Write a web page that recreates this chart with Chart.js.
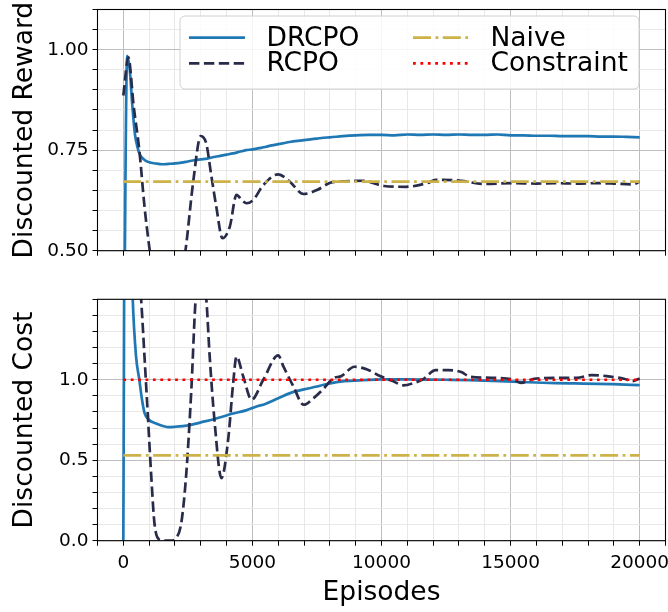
<!DOCTYPE html>
<html><head><meta charset="utf-8">
<script src="https://cdn.jsdelivr.net/npm/chart.js@4/dist/chart.umd.min.js"></script>
<style>
html,body{margin:0;padding:0;background:#fff;}
#wrap{position:relative;width:668px;height:612px;overflow:hidden;}
canvas{position:absolute;left:0;}
</style></head><body>
<div id="wrap">
<canvas id="topChart" width="668" height="270" style="top:0px"></canvas>
<canvas id="botChart" width="668" height="342" style="top:270px"></canvas>
</div>
<script>
// ---------- DATA ----------
const xTickLabels = ["0", "5000", "10000", "15000", "20000"];
const rewardTickLabels = ["0.50", "0.75", "1.00"];
const costTickLabels = ["0.0", "0.5", "1.0"];
const seriesNames = ["DRCPO", "RCPO", "Naive", "Constraint"];

const drcpoRewardEp  = [0,150,250,350,450,550,650,800,1000,1250,1500,1750,2000,2250,2500,2750,3000,3250,3500,3750,4000,4250,4500,4750,5000,5250,5500,5750,6000,6250,6500,6750,7000,7250,7500,7750,8000,8500,9000,9500,10000,10500,11000,11500,12000,12500,13000,13500,14000,14500,15000,15500,16000,16500,17000,17500,18000,18500,19000,19500,20000];
const drcpoRewardVal = [0.0,0.985,0.95,0.86,0.79,0.757,0.738,0.727,0.72,0.717,0.715,0.716,0.717,0.719,0.722,0.725,0.727,0.729,0.733,0.736,0.739,0.742,0.746,0.75,0.752,0.755,0.758,0.762,0.765,0.768,0.771,0.773,0.775,0.777,0.779,0.781,0.782,0.785,0.787,0.788,0.788,0.787,0.789,0.788,0.789,0.788,0.789,0.788,0.788,0.789,0.787,0.787,0.786,0.786,0.785,0.785,0.785,0.784,0.784,0.783,0.782];

const rcpoRewardEp  = [0,195,400,620,820,1010,1200,1700,2200,2410,2700,3000,3215,3400,3600,3840,4125,4385,4600,4775,5030,5420,6000,6460,6980,7500,8015,8450,9280,10100,10940,11765,12100,13090,13920,15080,16000,16735,17500,18390,19000,19720,20000];
const rcpoRewardVal = [0.886,0.981,0.86,0.75,0.61,0.507,0.42,0.35,0.43,0.502,0.668,0.785,0.766,0.69,0.61,0.531,0.56,0.639,0.625,0.618,0.626,0.663,0.69,0.671,0.641,0.651,0.669,0.672,0.674,0.661,0.659,0.668,0.676,0.674,0.666,0.668,0.667,0.668,0.667,0.668,0.667,0.665,0.672];

const drcpoCostEp  = [0,100,250,365,490,620,720,820,1000,1270,1500,1720,2000,2300,2570,3000,3500,3860,4250,4750,5160,5500,6000,6460,7000,7500,7760,8000,8400,8950,9500,10100,11000,11765,12500,13420,14000,15080,16000,16735,17500,18390,19200,20000];
const drcpoCostVal = [0.0,4.0,2.2,1.5,1.15,1.0,0.88,0.795,0.75,0.728,0.714,0.706,0.708,0.712,0.718,0.735,0.755,0.772,0.79,0.81,0.834,0.85,0.885,0.917,0.94,0.958,0.969,0.977,0.988,0.994,0.999,1.002,1.002,1.001,1.0,0.998,0.995,0.988,0.983,0.979,0.977,0.975,0.971,0.967];

const rcpoCostEp  = [0,200,400,550,690,820,945,1075,1205,1400,1660,1850,2050,2245,2440,2635,2800,3000,3215,3345,3540,3800,4060,4255,4385,4645,4970,5420,6000,6200,6590,6980,7370,7760,8120,8450,8950,9445,9940,10440,10850,11270,11600,12100,12590,13090,13420,14250,15080,15410,15910,16735,17560,18140,18720,19390,19720,20000];
const rcpoCostVal = [2.0,2.6,2.3,1.8,1.5,1.145,0.793,0.42,0.11,0.006,0.0,0.0,0.017,0.11,0.42,0.94,1.5,1.75,1.5,1.145,0.731,0.389,0.627,0.98,1.145,1.02,0.876,1.0,1.151,1.083,0.958,0.845,0.886,0.945,1.008,1.023,1.081,1.064,1.023,0.992,0.965,0.981,1.002,1.06,1.06,1.048,1.019,1.012,1.002,0.981,1.006,1.012,1.012,1.029,1.023,1.006,0.992,1.008];

const naiveEp = [0, 20000];
const naiveRewardVal = [0.672, 0.672];
const naiveCostVal = [0.53, 0.53];
const constraintEp = [0, 20000];
const constraintVal = [1.0, 1.0];

// ---------- STYLES ----------
const LW = 2.7;
const styleDRCPO = {borderColor:'#1f77b4', borderWidth:LW, borderDash:[]};
const styleRCPO = {borderColor:'#282c4a', borderWidth:LW, borderDash:[10.4,4.5]};
const styleNaive = {borderColor:'#cdb24a', borderWidth:LW, borderDash:[18,4.5,2.8,4.5]};
const styleConstraint = {borderColor:'#ff0000', borderWidth:LW, borderDash:[2.8,4.6]};

const FONT = "'DejaVu Sans'";
Chart.defaults.font.family = FONT;
Chart.defaults.color = '#000';

const toXY = (xs, ys) => xs.map((x, i) => ({x: x, y: ys[i]}));

function mkDataset(label, xs, ys, style, order, smooth) {
  return Object.assign({
    label: label, data: toXY(xs, ys), pointRadius: 0, fill: false,
    order: order, borderCapStyle: 'butt', borderJoinStyle: 'round',
    tension: smooth ? 0.4 : 0, cubicInterpolationMode: smooth ? 'monotone' : 'default'
  }, style);
}

const near = (v, step) => Math.abs(v / step - Math.round(v / step)) < 1e-6;
const MAJOR = 'rgba(190,190,190,1)';
const MINOR = 'rgba(232,232,232,1)';

function xScale(showLabels, height) {
  return {
    type: 'linear', min: -1000, max: 21000,
    afterFit: s => { s.height = height; s.paddingLeft = 0; s.paddingRight = 0; },
    ticks: {
      stepSize: 1000, autoSkip: false, maxRotation: 0, minRotation: 0,
      display: showLabels, padding: 6, font: {size: 18.5},
      callback: v => (near(v, 5000) && v >= 0 && v <= 20000) ? xTickLabels[Math.round(v / 5000)] : ''
    },
    grid: {
      color: c => (near(c.tick.value, 5000) && c.tick.value >= 0) ? MAJOR : MINOR,
      tickColor: '#000', tickLength: 5, lineWidth: 1
    },
    border: {display: false},
    title: showLabels ? {display: true, text: 'Episodes', font: {size: 26.5}, padding: {top: 0, bottom: 3}} : {display: false}
  };
}

function yScale(min, max, step, majorStep, labels, title) {
  return {
    type: 'linear', min: min, max: max,
    afterFit: s => { s.width = 97.5; s.paddingTop = 0; s.paddingBottom = 0; },
    ticks: {
      stepSize: step, autoSkip: false, padding: 4, font: {size: 18.5},
      callback: v => {
        if (!near(v, majorStep)) return '';
        const idx = Math.round((v - min) / majorStep);
        return (idx >= 0 && idx < labels.length) ? labels[idx] : '';
      }
    },
    grid: {
      color: c => near(c.tick.value, majorStep) && c.tick.value < max - 1e-9 ? MAJOR : MINOR,
      tickColor: '#000', tickLength: 5, lineWidth: 1
    },
    border: {display: false},
    title: {display: true, text: title, font: {size: 26.5}, padding: {top: 9, bottom: 0}}
  };
}

const framePlugin = {
  id: 'frame',
  afterDatasetsDraw(chart) {
    const a = chart.chartArea, ctx = chart.ctx;
    ctx.save();
    ctx.strokeStyle = '#000'; ctx.lineWidth = 1.1;
    ctx.strokeRect(a.left, a.top, a.right - a.left, a.bottom - a.top);
    ctx.restore();
  }
};

const legendPlugin = {
  id: 'mplLegend',
  afterDraw(chart) {
    const ctx = chart.ctx;
    const bx = 180, by = 16, bw = 459, bh = 73, r = 5;
    ctx.save();
    ctx.beginPath();
    ctx.moveTo(bx + r, by);
    ctx.arcTo(bx + bw, by, bx + bw, by + bh, r);
    ctx.arcTo(bx + bw, by + bh, bx, by + bh, r);
    ctx.arcTo(bx, by + bh, bx, by, r);
    ctx.arcTo(bx, by, bx + bw, by, r);
    ctx.closePath();
    ctx.fillStyle = 'rgba(255,255,255,0.85)';
    ctx.fill();
    ctx.strokeStyle = '#d0d0d0'; ctx.lineWidth = 1;
    ctx.stroke();
    const items = [
      {name: seriesNames[0], st: styleDRCPO, x: 189, y: 37.7},
      {name: seriesNames[1], st: styleRCPO, x: 189, y: 63.3},
      {name: seriesNames[2], st: styleNaive, x: 413, y: 37.7},
      {name: seriesNames[3], st: styleConstraint, x: 413, y: 63.3}
    ];
    ctx.font = '26.5px ' + FONT;
    ctx.textBaseline = 'middle';
    ctx.textAlign = 'left';
    ctx.fillStyle = '#000';
    items.forEach(it => {
      ctx.beginPath();
      ctx.setLineDash(it.st.borderDash);
      ctx.lineCap = 'butt';
      ctx.strokeStyle = it.st.borderColor;
      ctx.lineWidth = it.st.borderWidth;
      ctx.moveTo(it.x, it.y);
      ctx.lineTo(it.x + 56, it.y);
      ctx.stroke();
      ctx.setLineDash([]);
      ctx.fillText(it.name, it.x + 77.5, it.y + 1);
    });
    ctx.restore();
  }
};

new Chart(document.getElementById('topChart'), {
  type: 'line',
  data: {datasets: [
    mkDataset(seriesNames[0], drcpoRewardEp, drcpoRewardVal, styleDRCPO, 3, true),
    mkDataset(seriesNames[1], rcpoRewardEp, rcpoRewardVal, styleRCPO, 2, true),
    mkDataset(seriesNames[2], naiveEp, naiveRewardVal, styleNaive, 1, false)
  ]},
  options: {
    responsive: false, animation: false, devicePixelRatio: 1,
    layout: {padding: {top: 9.5, right: 2.5, left: 0, bottom: 0}},
    plugins: {legend: {display: false}, tooltip: {enabled: false}},
    scales: {
      x: xScale(false, 19.3),
      y: yScale(0.5, 1.1, 0.05, 0.25, rewardTickLabels, 'Discounted Reward')
    }
  },
  plugins: [framePlugin, legendPlugin]
});

new Chart(document.getElementById('botChart'), {
  type: 'line',
  data: {datasets: [
    mkDataset(seriesNames[0], drcpoCostEp, drcpoCostVal, styleDRCPO, 4, true),
    mkDataset(seriesNames[1], rcpoCostEp, rcpoCostVal, styleRCPO, 3, true),
    mkDataset(seriesNames[2], naiveEp, naiveCostVal, styleNaive, 2, false),
    mkDataset(seriesNames[3], constraintEp, constraintVal, styleConstraint, 1, false)
  ]},
  options: {
    responsive: false, animation: false, devicePixelRatio: 1,
    layout: {padding: {top: 29.3, right: 2.5, left: 0, bottom: 0}},
    plugins: {legend: {display: false}, tooltip: {enabled: false}},
    scales: {
      x: xScale(true, 71.3),
      y: yScale(0, 1.5, 0.1, 0.5, costTickLabels, 'Discounted Cost')
    }
  },
  plugins: [framePlugin]
});
</script>
</body></html>
